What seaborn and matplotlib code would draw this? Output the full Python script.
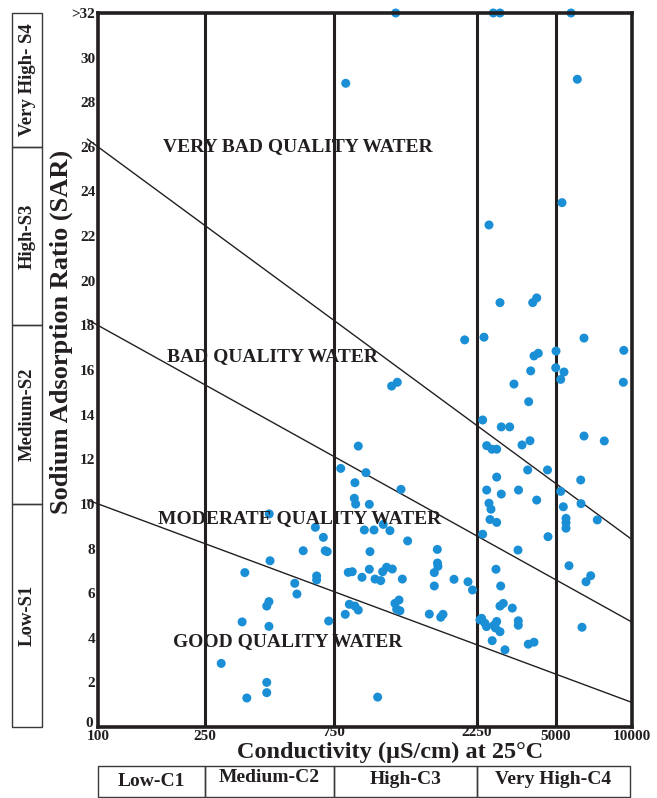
import numpy as np
import pandas as pd
import matplotlib
matplotlib.use("Agg")
import matplotlib.pyplot as plt
import matplotlib.transforms as mtransforms
import seaborn as sns
from matplotlib.patches import Rectangle

# ---------------- data ----------------
conductivity = [287, 343, 351, 357, 423, 423, 432, 435, 431, 423, 431, 537, 547, 577, 640, 647, 647, 685, 696, 708, 717,
                790, 818, 821, 837, 863, 844, 881, 904, 877, 886, 881, 904, 930, 947, 959, 984, 984, 989, 1020,
                1028, 1074, 1049, 1090, 1095, 1124, 1153, 1174, 1168, 1220, 1198, 1236, 1214, 1245, 1205, 1255,
                1268, 1321, 1560, 1621, 1621, 1659, 1661, 1667, 1703, 1733, 1886, 2047, 2100, 2174,
                2319, 2359, 2383, 2383, 2415, 2439, 2477, 2482, 2482, 2540, 2592, 2540, 2566, 2618, 2624, 2653,
                2746, 2746, 2746, 2726, 2746, 2713, 2839, 2839, 2839, 2859, 2839, 2935, 2876, 2876, 2986, 3131,
                3215, 3270, 3405, 3423, 3416, 3416, 3546, 3756, 3794, 3779, 3844, 3872, 3951, 4114, 4003, 4181,
                4003, 4114, 4588, 4612,
                5000, 4985, 5219, 5378, 5219, 5281, 5344, 5477, 5477, 5477, 5629, 5733, 6072, 6263, 6281, 6338,
                6455, 6455, 6574, 6861, 7287, 7767, 9280, 9238, 2672]
sar = [2.85, 4.71, 6.92, 1.30, 2.00, 1.54, 9.55, 7.45, 5.62, 5.42, 4.51, 6.44, 5.96, 7.90, 8.95, 6.77, 6.59, 8.50, 7.90, 7.86, 4.75,
       11.59, 5.05, 28.85, 6.93, 6.96, 5.50, 5.42, 5.24, 10.25, 9.99, 10.95, 12.59, 6.71, 8.83, 11.40, 9.98, 7.07, 7.86, 8.83,
       6.63, 6.56, 1.34, 6.96, 9.08, 7.16, 8.80, 7.08, 15.28, 15.45, 5.54, 5.69, 5.28, 5.21, 32, 10.65,
       6.63, 8.34, 5.06, 6.92, 6.32, 7.96, 7.35, 7.20, 4.92, 5.05, 6.62, 17.35, 6.51, 6.14,
       4.80, 4.87, 13.76, 8.64, 17.47, 4.65, 4.50, 12.61, 10.62, 10.03, 9.76, 22.50, 9.30, 12.45, 3.87, 32,
       12.45, 11.20, 9.17, 7.07, 4.73, 4.44, 4.27, 32, 19.02, 6.32, 5.42, 5.54, 13.45, 10.44, 3.46, 13.45,
       5.33, 15.37, 7.93, 10.62, 4.76, 4.56, 12.64, 11.52, 14.58, 3.71, 12.83, 15.96, 19.02, 19.23, 16.63, 16.75,
       3.80, 10.17, 11.52, 8.53,
       16.85, 16.10, 15.58, 15.91, 10.56, 23.50, 9.87, 9.35, 9.16, 8.91, 7.23, 32, 29.03, 11.07, 10.01, 4.47,
       17.43, 13.04, 6.51, 6.78, 9.28, 12.82, 16.88, 15.45, 4.56]

x_ticks = [100, 250, 750, 2250, 5000, 10000]
x_tick_labels = ["100", "250", "750", "2250", "5000", "10000"]
y_ticks = [0, 2, 4, 6, 8, 10, 12, 14, 16, 18, 20, 22, 24, 26, 28, 30, 32]
y_tick_labels = ["0", "2", "4", "6", "8", "10", "12", "14", "16", "18", "20", "22", "24", "26", "28", "30", ">32"]

# hazard boundary lines: SAR at 100 and 10000 uS/cm
boundary_left = [26, 18, 10]
boundary_right = [8.4, 4.7, 1.1]

quality_labels = ["VERY BAD QUALITY WATER", "BAD QUALITY WATER",
                  "MODERATE QUALITY WATER", "GOOD QUALITY WATER"]
salinity_classes = ["Low-C1", "Medium-C2", "High-C3", "Very High-C4"]
salinity_bounds = [100, 250, 750, 2250, 10000]
sodium_classes = ["Low-S1", "Medium-S2", "High-S3", "Very High- S4"]
sodium_bounds = [0, 10, 18, 26, 32]

df = pd.DataFrame({"EC": conductivity, "SAR": sar})

# ---------------- scale (diagram's stretched log axis) ----------------
log_ticks = np.log10(x_ticks)
tick_frac = np.array([0.0, 0.2004, 0.4419, 0.7097, 0.8577, 1.0])


def fwd(x):
    x = np.clip(np.asarray(x, dtype=float), 1e-9, None)
    return np.interp(np.log10(x), log_ticks, tick_frac)


def inv(p):
    return 10 ** np.interp(np.asarray(p, dtype=float), tick_frac, log_ticks)


# ---------------- style ----------------
sns.set_style("white")
plt.rcParams["font.family"] = ["Liberation Serif", "DejaVu Serif"]
plt.rcParams["font.weight"] = "bold"

W, H = 657, 798
fig = plt.figure(figsize=(W / 100, H / 100), dpi=100)


def fx(px):
    return px / W


def fy(py):
    return 1 - py / H


L, R, T, B = 98, 632, 13, 727
ax = fig.add_axes([fx(L), fy(B), (R - L) / W, (B - T) / H])
ax.set_xscale("function", functions=(fwd, inv))
ax.set_xlim(100, 10000)
ax.set_ylim(0, 32)

ink = "#231f20"
dot_color = "#1a8fd6"
sns.scatterplot(data=df, x="EC", y="SAR", ax=ax, color=dot_color, s=42,
                edgecolor="none", linewidth=0, zorder=3, clip_on=False)

for v in salinity_bounds[1:-1] + [5000]:
    ax.axvline(v, color=ink, lw=2.2, zorder=2)

ext = 0.02
for yl, yr in zip(boundary_left, boundary_right):
    ax.plot([100, 10000], [yl, yr], color=ink, lw=1.0, zorder=2)
    a0, a1 = yl / 32, yr / 32
    ax.plot([-ext, 0], [a0 + ext * (a0 - a1), a0],
            transform=ax.transAxes, color=ink, lw=1.0, clip_on=False)

for s in ax.spines.values():
    s.set_linewidth(2.6)
    s.set_color(ink)
    s.set_zorder(4)

ax.set_xticks(x_ticks)
ax.set_xticklabels(x_tick_labels)
ax.set_yticks(y_ticks)
ax.set_yticklabels(y_tick_labels)
ax.tick_params(axis="both", length=0, labelsize=11, pad=2, colors=ink)
for lab in ax.get_xticklabels() + ax.get_yticklabels():
    lab.set_fontweight("bold")
# the two middle conductivity labels sit slightly higher in the original
for lab in ax.get_xticklabels():
    if lab.get_text() in ("750", "2250"):
        lab.set_transform(lab.get_transform() +
                          mtransforms.ScaledTranslation(0, 4 / 100, fig.dpi_scale_trans))
# the "0" of the SAR axis sits a little above the corner
for lab in ax.get_yticklabels():
    if lab.get_text() == "0":
        lab.set_transform(lab.get_transform() +
                          mtransforms.ScaledTranslation(-2 / 100, 5 / 100, fig.dpi_scale_trans))
ax.set_xlabel("")
ax.set_ylabel("")

# quality zone labels (axes fractions)
label_pos = [(0.3745, 0.8123), (0.3258, 0.5182), (0.3783, 0.2913), (0.3549, 0.1204)]
for txt, (px_, py_) in zip(quality_labels, label_pos):
    ax.text(px_, py_, txt, transform=ax.transAxes, ha="center", va="center",
            fontsize=14, fontweight="bold", color=ink, zorder=5)

# axis titles
fig.text(fx(390), fy(752), "Conductivity (µS/cm) at 25°C", ha="center", va="center",
         fontsize=17.5, fontweight="bold", color=ink)
fig.text(fx(61), fy(332), "Sodium Adsorption Ratio (SAR)", ha="center", va="center",
         rotation=90, fontsize=19, fontweight="bold", color=ink)

# left sodium hazard boxes
bx0, bx1 = 12, 42
for i, name in enumerate(sodium_classes):
    y_lo = B - (B - T) * sodium_bounds[i] / 32
    y_hi = B - (B - T) * sodium_bounds[i + 1] / 32
    fig.add_artist(Rectangle((fx(bx0), fy(y_lo)), fx(bx1) - fx(bx0), fy(y_hi) - fy(y_lo),
                             transform=fig.transFigure, fill=False, ec="#3a3a3a", lw=1.0))
    fig.text(fx((bx0 + bx1) / 2), fy((y_lo + y_hi) / 2), name, rotation=90,
             ha="center", va="center", fontsize=13.5, fontweight="bold", color=ink)

# bottom salinity hazard boxes
by0, by1 = 766, 797
text_y = [782, 777, 780, 780]
for i, name in enumerate(salinity_classes):
    x_lo = L + (R - L) * fwd(salinity_bounds[i])
    x_hi = L + (R - L) * fwd(salinity_bounds[i + 1]) - (2 if i == 3 else 0)
    fig.add_artist(Rectangle((fx(x_lo), fy(by1)), fx(x_hi) - fx(x_lo), fy(by0) - fy(by1),
                             transform=fig.transFigure, fill=False, ec="#3a3a3a", lw=1.0))
    fig.text(fx((x_lo + x_hi) / 2), fy(text_y[i]), name,
             ha="center", va="center", fontsize=14, fontweight="bold", color=ink)

fig.savefig("out.png", dpi=100)
